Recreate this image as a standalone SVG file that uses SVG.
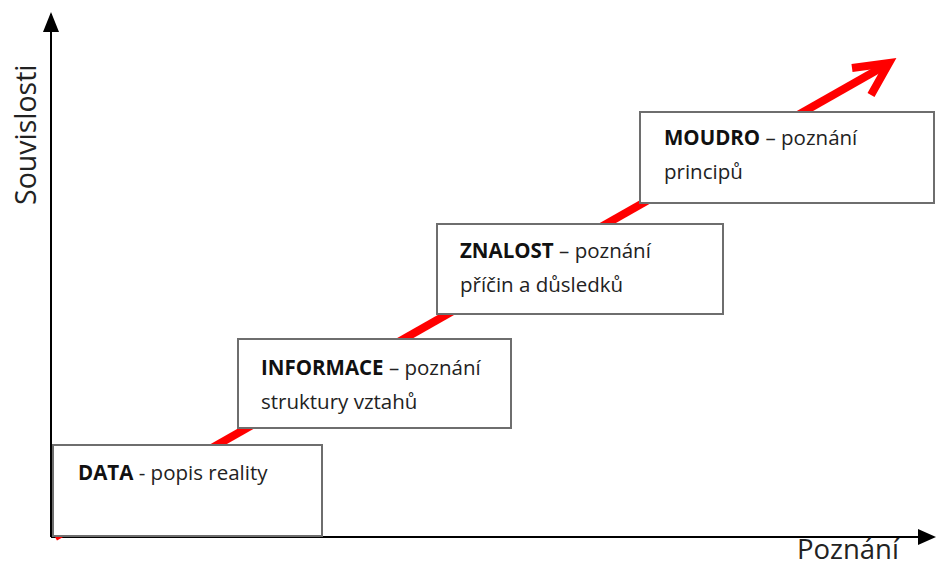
<svg xmlns="http://www.w3.org/2000/svg" width="936" height="568" viewBox="0 0 936 568">
<style>
.box{fill:#fff;stroke:#6e6e6e;stroke-width:2}
.t{font-family:"Open Sans","Liberation Sans",sans-serif;font-size:20.5px;fill:#222}
.b{font-weight:bold;fill:#111}
.ax{font-family:"Open Sans","Liberation Sans",sans-serif;font-size:28.5px;fill:#222}
</style>
<rect width="936" height="568" fill="#fff"/>
<g id="connectors">
<line x1="51" y1="537" x2="51" y2="14" stroke="#000" stroke-width="2"/>
<path d="M43,32 L51,12 L59,32 Z" fill="#000"/>
<line x1="51" y1="537" x2="918" y2="537" stroke="#000" stroke-width="2"/>
<path d="M918,529 L936,537 L918,545 Z" fill="#000"/>
<line x1="55" y1="537" x2="886" y2="65" stroke="#f00" stroke-width="8"/>
<path d="M852,68 L889,63 L871,95" fill="none" stroke="#f00" stroke-width="8" stroke-linejoin="miter"/>
</g>
<g id="data">
<rect class="box" x="53" y="445" width="269" height="91"/>
<text class="t" x="78" y="480"><tspan class="b">DATA</tspan> - popis reality</text>
</g>
<g id="informace">
<rect class="box" x="238" y="339" width="273" height="89"/>
<text class="t" x="261" y="375"><tspan class="b">INFORMACE</tspan> – poznání</text>
<text class="t" x="261" y="409">struktury vztahů</text>
</g>
<g id="znalost">
<rect class="box" x="437" y="224" width="286" height="90"/>
<text class="t" x="460" y="258"><tspan class="b">ZNALOST</tspan> – poznání</text>
<text class="t" x="460" y="292">příčin a důsledků</text>
</g>
<g id="moudro">
<rect class="box" x="640" y="112" width="294" height="91"/>
<text class="t" x="664" y="145"><tspan class="b">MOUDRO</tspan> – poznání</text>
<text class="t" x="664" y="179">principů</text>
</g>
<text class="ax" transform="translate(36,205) rotate(-90)">Souvislosti</text>
<text class="ax" x="797" y="559" style="font-size:27.5px">Poznání</text>
</svg>
